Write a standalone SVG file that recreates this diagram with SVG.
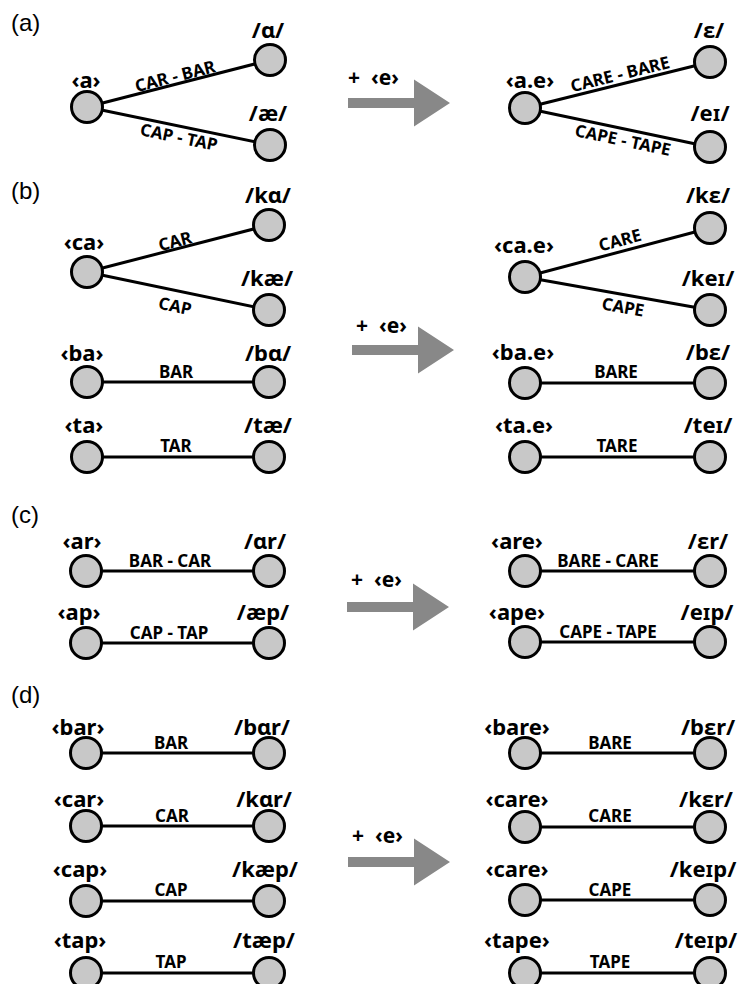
<svg xmlns="http://www.w3.org/2000/svg" width="739" height="984" viewBox="0 0 739 984">
<style>
.n circle{fill:#c8c8c8;stroke:#000;stroke-width:3}
.t{font-family:"Noto Sans","Open Sans","DejaVu Sans",sans-serif;font-weight:bold;font-size:22px;text-anchor:middle;fill:#000}
.el{font-family:"Noto Sans","Open Sans","DejaVu Sans",sans-serif;font-weight:bold;font-size:17px;text-anchor:middle;fill:#000}
.ec{font-family:"Noto Sans","Open Sans","DejaVu Sans",sans-serif;font-weight:bold;font-size:17px;text-anchor:middle;fill:#000}
.p{font-family:"Liberation Sans",Arial,sans-serif;font-size:24px;fill:#000}
.pe{font-family:"Noto Sans","Open Sans","DejaVu Sans",sans-serif;font-weight:bold;font-size:21px;fill:#000}
.c line{stroke:#000;stroke-width:3}
.arr{fill:#888}
</style>
<defs>
<path id="arrow" class="arr" d="M0,-5 H66 V-23.5 L102,0 L66,23.5 V5 H0 Z"/>
</defs>

<g id="labels">
<text class="p" x="11" y="31">(a)</text>
<text class="p" x="11" y="199">(b)</text>
<text class="p" x="11" y="523">(c)</text>
<text class="p" x="11" y="703">(d)</text>
</g>
<g id="arrows">
<use href="#arrow" x="348" y="103"/>
<text class="pe" y="85"><tspan x="348">+</tspan><tspan x="371">‹e›</tspan></text>
<use href="#arrow" x="352" y="350"/>
<text class="pe" y="333"><tspan x="356">+</tspan><tspan x="379">‹e›</tspan></text>
<use href="#arrow" x="347" y="607"/>
<text class="pe" y="587"><tspan x="351">+</tspan><tspan x="374">‹e›</tspan></text>
<use href="#arrow" x="348" y="862"/>
<text class="pe" y="843"><tspan x="352">+</tspan><tspan x="375">‹e›</tspan></text>
</g>

<g id="connectors" class="c">
<line x1="87" y1="107" x2="270" y2="60"/>
<line x1="87" y1="107" x2="270" y2="145"/>
<line x1="525" y1="108" x2="710" y2="62"/>
<line x1="525" y1="108" x2="710" y2="147"/>
<text class="ec" transform="translate(175,76) rotate(-14.4)" dy="0.36em">CAR - BAR</text>
<text class="ec" transform="translate(179,137) rotate(11.7)" dy="0.36em">CAP - TAP</text>
<text class="ec" transform="translate(620,74) rotate(-14)" dy="0.36em">CARE - BARE</text>
<text class="ec" transform="translate(623,140) rotate(11.9)" dy="0.36em">CAPE - TAPE</text>
<line x1="87" y1="272" x2="269" y2="225"/>
<line x1="87" y1="272" x2="269" y2="310"/>
<line x1="87" y1="382" x2="269" y2="382"/>
<line x1="87" y1="457" x2="269" y2="457"/>
<line x1="525" y1="277" x2="710" y2="228"/>
<line x1="525" y1="277" x2="710" y2="310"/>
<line x1="525" y1="383" x2="710" y2="383"/>
<line x1="525" y1="457" x2="710" y2="457"/>
<text class="ec" transform="translate(175,241) rotate(-14.5)" dy="0.36em">CAR</text>
<text class="ec" transform="translate(175,306) rotate(11.8)" dy="0.36em">CAP</text>
<text class="el" x="176" y="378">BAR</text>
<text class="el" x="176" y="452">TAR</text>
<text class="ec" transform="translate(620,240) rotate(-14.8)" dy="0.36em">CARE</text>
<text class="ec" transform="translate(623,307) rotate(10.1)" dy="0.36em">CAPE</text>
<text class="el" x="616" y="378">BARE</text>
<text class="el" x="617" y="452">TARE</text>
<line x1="86" y1="571" x2="269" y2="571"/>
<line x1="86" y1="643" x2="269" y2="643"/>
<line x1="525" y1="571" x2="710" y2="571"/>
<line x1="525" y1="642" x2="710" y2="642"/>
<text class="el" x="170" y="567">BAR - CAR</text>
<text class="el" x="169" y="639">CAP - TAP</text>
<text class="el" x="608" y="567">BARE - CARE</text>
<text class="el" x="608" y="638">CAPE - TAPE</text>
<line x1="86" y1="753" x2="269" y2="753"/>
<line x1="86" y1="826" x2="269" y2="826"/>
<line x1="86" y1="901" x2="269" y2="901"/>
<line x1="86" y1="973" x2="269" y2="973"/>
<line x1="525" y1="753" x2="710" y2="753"/>
<line x1="525" y1="827" x2="710" y2="827"/>
<line x1="525" y1="900" x2="710" y2="900"/>
<line x1="525" y1="973" x2="710" y2="973"/>
<text class="el" x="171" y="749">BAR</text>
<text class="el" x="172" y="822">CAR</text>
<text class="el" x="171" y="896">CAP</text>
<text class="el" x="171" y="968">TAP</text>
<text class="el" x="610" y="749">BARE</text>
<text class="el" x="610" y="822">CARE</text>
<text class="el" x="610" y="896">CAPE</text>
<text class="el" x="610" y="968">TAPE</text>
</g>

<g id="a-a" class="n"><circle cx="87" cy="107" r="15.5"/><text class="t" x="86" y="88">‹a›</text></g>
<g id="a-ah" class="n"><circle cx="270" cy="60" r="15.5"/><text class="t" x="268" y="38">/ɑ/</text></g>
<g id="a-ae" class="n"><circle cx="270" cy="145" r="15.5"/><text class="t" x="268" y="121">/æ/</text></g>
<g id="a2-ae" class="n"><circle cx="525" cy="108" r="15.5"/><text class="t" x="530" y="88">‹a.e›</text></g>
<g id="a2-eps" class="n"><circle cx="710" cy="62" r="15.5"/><text class="t" x="709" y="38">/ɛ/</text></g>
<g id="a2-ei" class="n"><circle cx="710" cy="147" r="15.5"/><text class="t" x="710" y="121">/eɪ/</text></g>

<g id="b-ca" class="n"><circle cx="87" cy="272" r="15.5"/><text class="t" x="84" y="250">‹ca›</text></g>
<g id="b-kah" class="n"><circle cx="269" cy="225" r="15.5"/><text class="t" x="268" y="203">/kɑ/</text></g>
<g id="b-kae" class="n"><circle cx="269" cy="310" r="15.5"/><text class="t" x="267" y="286">/kæ/</text></g>
<g id="b-ba" class="n"><circle cx="87" cy="382" r="15.5"/><text class="t" x="82" y="361">‹ba›</text></g>
<g id="b-bah" class="n"><circle cx="269" cy="382" r="15.5"/><text class="t" x="268" y="361">/bɑ/</text></g>
<g id="b-ta" class="n"><circle cx="87" cy="457" r="15.5"/><text class="t" x="84" y="433">‹ta›</text></g>
<g id="b-tae" class="n"><circle cx="269" cy="457" r="15.5"/><text class="t" x="268" y="433">/tæ/</text></g>
<g id="b2-ca" class="n"><circle cx="525" cy="277" r="15.5"/><text class="t" x="524" y="253">‹ca.e›</text></g>
<g id="b2-ke" class="n"><circle cx="710" cy="228" r="15.5"/><text class="t" x="708" y="203">/kɛ/</text></g>
<g id="b2-kei" class="n"><circle cx="710" cy="310" r="15.5"/><text class="t" x="708" y="286">/keɪ/</text></g>
<g id="b2-ba" class="n"><circle cx="525" cy="383" r="15.5"/><text class="t" x="523" y="360">‹ba.e›</text></g>
<g id="b2-be" class="n"><circle cx="710" cy="383" r="15.5"/><text class="t" x="708" y="360">/bɛ/</text></g>
<g id="b2-ta" class="n"><circle cx="525" cy="457" r="15.5"/><text class="t" x="524" y="433">‹ta.e›</text></g>
<g id="b2-tei" class="n"><circle cx="710" cy="457" r="15.5"/><text class="t" x="708" y="433">/teɪ/</text></g>

<g id="c-ar" class="n"><circle cx="86" cy="571" r="15.5"/><text class="t" x="82" y="549">‹ar›</text></g>
<g id="c-ahr" class="n"><circle cx="269" cy="571" r="15.5"/><text class="t" x="265" y="549">/ɑr/</text></g>
<g id="c-ap" class="n"><circle cx="86" cy="643" r="15.5"/><text class="t" x="79" y="620">‹ap›</text></g>
<g id="c-aep" class="n"><circle cx="269" cy="643" r="15.5"/><text class="t" x="263" y="620">/æp/</text></g>
<g id="c2-are" class="n"><circle cx="525" cy="571" r="15.5"/><text class="t" x="517" y="549">‹are›</text></g>
<g id="c2-er" class="n"><circle cx="710" cy="571" r="15.5"/><text class="t" x="708" y="549">/ɛr/</text></g>
<g id="c2-ape" class="n"><circle cx="525" cy="642" r="15.5"/><text class="t" x="517" y="620">‹ape›</text></g>
<g id="c2-eip" class="n"><circle cx="710" cy="642" r="15.5"/><text class="t" x="707" y="620">/eɪp/</text></g>

<g id="d-bar" class="n"><circle cx="86" cy="753" r="15.5"/><text class="t" x="78" y="735">‹bar›</text></g>
<g id="d-bahr" class="n"><circle cx="269" cy="753" r="15.5"/><text class="t" x="262" y="735">/bɑr/</text></g>
<g id="d-car" class="n"><circle cx="86" cy="826" r="15.5"/><text class="t" x="79" y="807">‹car›</text></g>
<g id="d-kahr" class="n"><circle cx="269" cy="826" r="15.5"/><text class="t" x="264" y="807">/kɑr/</text></g>
<g id="d-cap" class="n"><circle cx="86" cy="901" r="15.5"/><text class="t" x="80" y="877">‹cap›</text></g>
<g id="d-kaep" class="n"><circle cx="269" cy="901" r="15.5"/><text class="t" x="265" y="877">/kæp/</text></g>
<g id="d-tap" class="n"><circle cx="86" cy="973" r="15.5"/><text class="t" x="80" y="948">‹tap›</text></g>
<g id="d-taep" class="n"><circle cx="269" cy="973" r="15.5"/><text class="t" x="264" y="948">/tæp/</text></g>
<g id="d2-bare" class="n"><circle cx="525" cy="753" r="15.5"/><text class="t" x="517" y="735">‹bare›</text></g>
<g id="d2-ber" class="n"><circle cx="710" cy="753" r="15.5"/><text class="t" x="708" y="735">/bɛr/</text></g>
<g id="d2-care" class="n"><circle cx="525" cy="827" r="15.5"/><text class="t" x="517" y="807">‹care›</text></g>
<g id="d2-ker" class="n"><circle cx="710" cy="827" r="15.5"/><text class="t" x="706" y="807">/kɛr/</text></g>
<g id="d2-care2" class="n"><circle cx="525" cy="900" r="15.5"/><text class="t" x="517" y="877">‹care›</text></g>
<g id="d2-keip" class="n"><circle cx="710" cy="900" r="15.5"/><text class="t" x="703" y="877">/keɪp/</text></g>
<g id="d2-tape" class="n"><circle cx="525" cy="973" r="15.5"/><text class="t" x="517" y="948">‹tape›</text></g>
<g id="d2-teip" class="n"><circle cx="710" cy="973" r="15.5"/><text class="t" x="706" y="948">/teɪp/</text></g>
</svg>
